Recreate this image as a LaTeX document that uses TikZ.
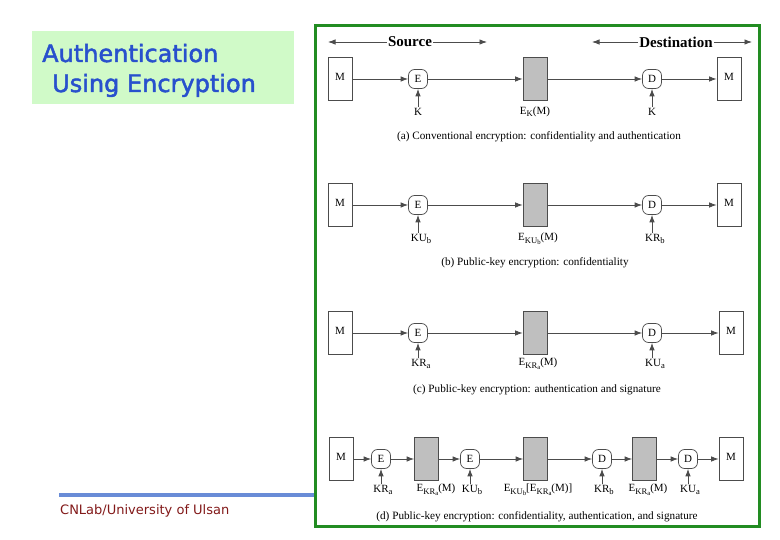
\documentclass[tikz,border=0pt]{standalone}
\usepackage{fontspec}
\usepackage{graphicx}
\setmainfont{Liberation Serif}
\newfontfamily\titlefont[FakeBold=2]{DejaVu Sans}
\newfontfamily\footfont{DejaVu Sans}
\usetikzlibrary{arrows.meta}
\definecolor{framegreen}{RGB}{34,140,34}
\definecolor{titlebg}{RGB}{208,250,200}
\definecolor{titleblue}{RGB}{40,80,205}
\definecolor{rulecol}{RGB}{105,140,215}
\definecolor{footred}{RGB}{130,25,25}
\newcommand\sbs[1]{\raisebox{-0.45ex}{\scalebox{0.78}{#1}}}
\begin{document}
\begin{tikzpicture}[x=1pt,y=-1pt,
  line/.style={draw=black!70, line width=0.8pt},
  flow/.style={line, -{Latex[length=7.5pt,width=5.5pt]}},
  msg/.style={draw=black!70, line width=0.7pt, fill=white, minimum width=24pt, minimum height=43pt, inner sep=0pt, font=\fontsize{11}{13}\selectfont},
  enc/.style={msg, fill=black!25},
  op/.style={draw=black!70, line width=0.7pt, rounded corners=6pt, minimum width=19pt, minimum height=19pt, inner sep=0pt, font=\fontsize{11}{13}\selectfont},
  lab/.style={font=\fontsize{11}{13}\selectfont, inner sep=1pt},
  captext/.style={font=\fontsize{11.2}{13}\selectfont, inner sep=1pt},
  hdr/.style={font=\fontsize{15}{17}\selectfont\bfseries, fill=white, inner sep=1pt},
]
\useasboundingbox (0,0) rectangle (780,540);
% title
\fill[titlebg] (32,31) rectangle (294,104);
\node[anchor=base west, inner sep=0, text=titleblue, font=\titlefont\fontsize{24}{28}\selectfont] (t1) at (42,62) {Authentication};
\node[anchor=base west, inner sep=0, text=titleblue, font=\titlefont\fontsize{24}{28}\selectfont] (t2) at (52,92) {Using Encryption};
% footer
\draw[rulecol, line width=4pt] (59,495) -- (316,495);
\node[anchor=west, inner sep=0, text=footred, font=\footfont\fontsize{13}{15}\selectfont] (foot) at (60,511) {CNLab/University of Ulsan};
% frame
\draw[framegreen, line width=3pt] (315,26) rectangle (759,526);
% headers
\coordinate (sL) at (328,42); \coordinate (sR) at (487,42);
\node[hdr] (src) at (410,42) {Source};
\draw[flow] (src) -- (sL); \draw[flow] (src) -- (sR);
\coordinate (dL) at (592,42); \coordinate (dR) at (752,42);
\node[hdr] (dst) at (676,42) {Destination};
\draw[flow] (dst) -- (dL); \draw[flow] (dst) -- (dR);
% row a
\node[msg] (a1) at (340,79) {\raisebox{4pt}{M}};
\node[op] (aE) at (418,79) {E};
\node[enc] (aX) at (535,79) {};
\node[op] (aD) at (652,79) {D};
\node[msg] (a2) at (729,79) {\raisebox{4pt}{M}};
\draw[flow] (a1) -- (aE); \draw[flow] (aE) -- (aX); \draw[flow] (aX) -- (aD); \draw[flow] (aD) -- (a2);
\node[lab] (aK1) at (418,112) {K};
\node[lab] (aL) at (535,112) {E\sbs{K}(M)};
\node[lab] (aK2) at (652,112) {K};
\draw[flow] (aE |- aK1.north) -- (aE); \draw[flow] (aD |- aK2.north) -- (aD);
\node[captext] (aC) at (539,137) {(a) Conventional encryption: confidentiality and authentication};
% row b
\node[msg] (b1) at (340,205) {\raisebox{4pt}{M}};
\node[op] (bE) at (418,205) {E};
\node[enc] (bX) at (535,205) {};
\node[op] (bD) at (652,205) {D};
\node[msg] (b2) at (729,205) {\raisebox{4pt}{M}};
\draw[flow] (b1) -- (bE); \draw[flow] (bE) -- (bX); \draw[flow] (bX) -- (bD); \draw[flow] (bD) -- (b2);
\node[lab] (bK1) at (421,239) {KU\sbs{b}};
\node[lab] (bL) at (538,239) {E\sbs{KU\sbs{b}}(M)};
\node[lab] (bK2) at (655,239) {KR\sbs{b}};
\draw[flow] (bE |- bK1.north) -- (bE); \draw[flow] (bD |- bK2.north) -- (bD);
\node[captext] (bC) at (535,263) {(b) Public-key encryption: confidentiality};
% row c
\node[msg] (c1) at (340,333) {\raisebox{4pt}{M}};
\node[op] (cE) at (418,333) {E};
\node[enc] (cX) at (535,333) {};
\node[op] (cD) at (652,333) {D};
\node[msg] (c2) at (731,333) {\raisebox{4pt}{M}};
\draw[flow] (c1) -- (cE); \draw[flow] (cE) -- (cX); \draw[flow] (cX) -- (cD); \draw[flow] (cD) -- (c2);
\node[lab] (cK1) at (421,364) {KR\sbs{a}};
\node[lab] (cL) at (538,364) {E\sbs{KR\sbs{a}}(M)};
\node[lab] (cK2) at (655,364) {KU\sbs{a}};
\draw[flow] (cE |- cK1.north) -- (cE); \draw[flow] (cD |- cK2.north) -- (cD);
\node[captext] (cC) at (537,390) {(c) Public-key encryption: authentication and signature};
% row d
\node[msg] (d1) at (341,459) {\raisebox{4pt}{M}};
\node[op] (dE1) at (381,459) {E};
\node[enc] (dX1) at (426.5,459) {};
\node[op] (dE2) at (470,459) {E};
\node[enc] (dX2) at (535.5,459) {};
\node[op] (dD1) at (602,459) {D};
\node[enc] (dX3) at (644.5,459) {};
\node[op] (dD2) at (688,459) {D};
\node[msg] (d2) at (731,459) {\raisebox{4pt}{M}};
\draw[flow] (d1) -- (dE1); \draw[flow] (dE1) -- (dX1); \draw[flow] (dX1) -- (dE2); \draw[flow] (dE2) -- (dX2);
\draw[flow] (dX2) -- (dD1); \draw[flow] (dD1) -- (dX3); \draw[flow] (dX3) -- (dD2); \draw[flow] (dD2) -- (d2);
\node[lab] (dK1) at (383,490) {KR\sbs{a}};
\node[lab] (dL1) at (436,490) {E\sbs{KR\sbs{a}}(M)};
\node[lab] (dK2) at (472,490) {KU\sbs{b}};
\node[lab] (dL2) at (538,490) {E\sbs{KU\sbs{b}}[E\sbs{KR\sbs{a}}(M)]};
\node[lab] (dK3) at (604,490) {KR\sbs{b}};
\node[lab] (dL3) at (648,490) {E\sbs{KR\sbs{a}}(M)};
\node[lab] (dK4) at (690,490) {KU\sbs{a}};
\draw[flow] (dE1 |- dK1.north) -- (dE1); \draw[flow] (dE2 |- dK2.north) -- (dE2);
\draw[flow] (dD1 |- dK3.north) -- (dD1); \draw[flow] (dD2 |- dK4.north) -- (dD2);
\node[captext] (dC) at (537,517) {(d) Public-key encryption: confidentiality, authentication, and signature};
\end{tikzpicture}
\end{document}
